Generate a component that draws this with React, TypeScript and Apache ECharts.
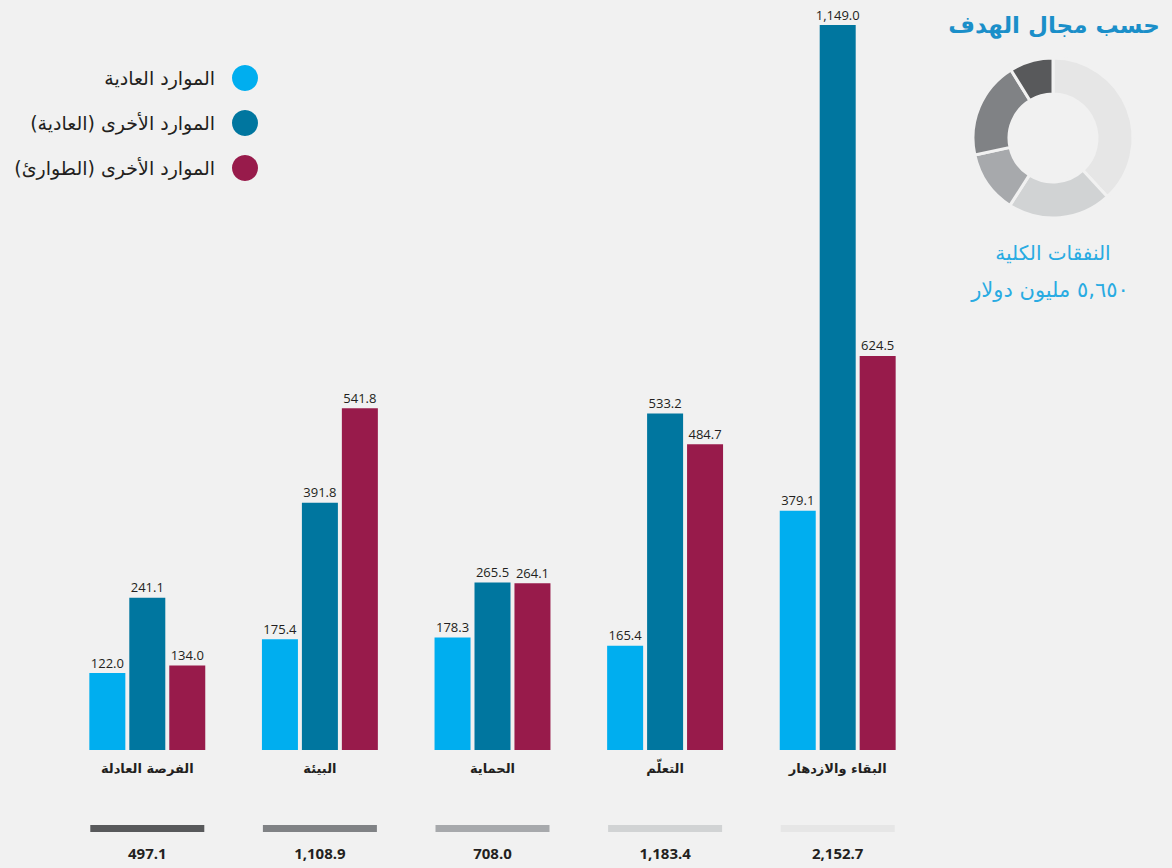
import React, { useEffect, useRef } from "react";
import * as echarts from "echarts";

const RLM = "\u200F";
const categories = ["الفرصة العادلة", "البيئة", "الحماية", "التعلّم", "البقاء والازدهار"];
const seriesNames = ["الموارد العادية", "الموارد الأخرى (العادية)", "الموارد الأخرى (الطوارئ)"];
const regularResources = [122.0, 175.4, 178.3, 165.4, 379.1];
const otherRegular = [241.1, 391.8, 265.5, 533.2, 1149.0];
const otherEmergency = [134.0, 541.8, 264.1, 484.7, 624.5];
const totals = [497.1, 1108.9, 708.0, 1183.4, 2152.7];
const donutTitle = "حسب مجال الهدف";
const totalLabel = "النفقات الكلية";
const totalValueLabel = "٥,٦٥٠ مليون دولار";

const seriesColors = ["#00aeef", "#00769f", "#981b4b"];
const greys = ["#58595b", "#808285", "#a7a9ac", "#d1d3d4", "#e6e6e6"];
const BG = "#f1f1f1";
const AR_FONT = "'DejaVu Sans', sans-serif";
const NUM_FONT = "'Open Sans', 'Noto Sans', sans-serif";

const fmt = (v: number) =>
  v.toLocaleString("en-US", { minimumFractionDigits: 1, maximumFractionDigits: 1 });

export default function App() {
  const ref = useRef<HTMLDivElement>(null);
  useEffect(() => {
    document.body.style.margin = "0";
    const chart = echarts.init(ref.current!, null, { renderer: "svg" });
    const gridLeft = 61;
    const gridRight = 248;
    const valueSeries = [regularResources, otherRegular, otherEmergency].map((arr, si) => ({
      type: "bar",
      name: RLM + seriesNames[si] + RLM,
      xAxisIndex: 0,
      yAxisIndex: 0,
      data: arr,
      barWidth: 36,
      barGap: "11%",
      itemStyle: { color: seriesColors[si] },
      label: {
        show: true,
        position: "top",
        distance: 4,
        color: "#231f20",
        fontFamily: NUM_FONT,
        fontSize: 13,
        formatter: (p: any) => fmt(p.value),
      },
    }));
    chart.setOption({
      animation: false,
      backgroundColor: BG,
      legend: {
        orient: "vertical",
        right: 1172 - 258,
        top: 65,
        padding: 0,
        align: "right",
        icon: "circle",
        itemWidth: 26,
        itemHeight: 26,
        itemGap: 19,
        selectedMode: false,
        textStyle: {
          fontFamily: AR_FONT,
          fontSize: 19,
          color: "#231f20",
          padding: [0, 12, 0, 0],
        },
        data: seriesNames.map((n) => RLM + n + RLM),
      },
      grid: [
        { left: gridLeft, right: gridRight, top: 25, bottom: 118 },
        { left: gridLeft, right: gridRight, top: 825, height: 7 },
      ],
      xAxis: [
        {
          type: "category",
          gridIndex: 0,
          data: categories,
          axisLine: { show: false },
          axisTick: { show: false },
          axisLabel: {
            margin: 12,
            fontFamily: AR_FONT,
            fontWeight: "bold",
            fontSize: 13,
            color: "#231f20",
          },
        },
        {
          type: "category",
          gridIndex: 1,
          data: categories,
          axisLine: { show: false },
          axisTick: { show: false },
          axisLabel: { show: false },
        },
      ],
      yAxis: [
        {
          type: "value",
          gridIndex: 0,
          min: 0,
          max: 1149,
          show: false,
          splitLine: { show: false },
        },
        { type: "value", gridIndex: 1, min: 0, max: 1, show: false, splitLine: { show: false } },
      ],
      series: [
        ...valueSeries,
        {
          type: "bar",
          name: "totals",
          xAxisIndex: 1,
          yAxisIndex: 1,
          barWidth: 114,
          data: totals.map((t, i) => ({ value: 1, itemStyle: { color: greys[i] } })),
          label: {
            show: true,
            position: "bottom",
            distance: 13,
            color: "#231f20",
            fontFamily: NUM_FONT,
            fontWeight: "bold",
            fontSize: 15,
            formatter: (p: any) => fmt(totals[p.dataIndex]),
          },
        },
        {
          type: "pie",
          name: "donut",
          center: [1053, 138],
          radius: [44, 80],
          startAngle: 90,
          clockwise: true,
          label: { show: false },
          labelLine: { show: false },
          itemStyle: { borderColor: BG, borderWidth: 3 },
          emphasis: { disabled: true },
          data: categories
            .map((c, i) => ({ name: c, value: totals[i], itemStyle: { color: greys[i] } }))
            .reverse(),
        },
      ],
      graphic: [
        {
          type: "text",
          x: 1054,
          y: 25,
          style: {
            text: donutTitle,
            fill: "#1b8fc9",
            font: `bold 23px ${AR_FONT}`,
            align: "center",
            verticalAlign: "middle",
          },
        },
        {
          type: "text",
          x: 1053,
          y: 253,
          style: {
            text: totalLabel,
            fill: "#29abe2",
            font: `20px ${AR_FONT}`,
            align: "center",
            verticalAlign: "middle",
          },
        },
        {
          type: "text",
          x: 1050,
          y: 290,
          style: {
            text: RLM + totalValueLabel + RLM,
            fill: "#29abe2",
            font: `21px ${AR_FONT}`,
            align: "center",
            verticalAlign: "middle",
          },
        },
      ],
    });
    return () => chart.dispose();
  }, []);
  return <div ref={ref} style={{ width: 1172, height: 868, background: BG }} />;
}
